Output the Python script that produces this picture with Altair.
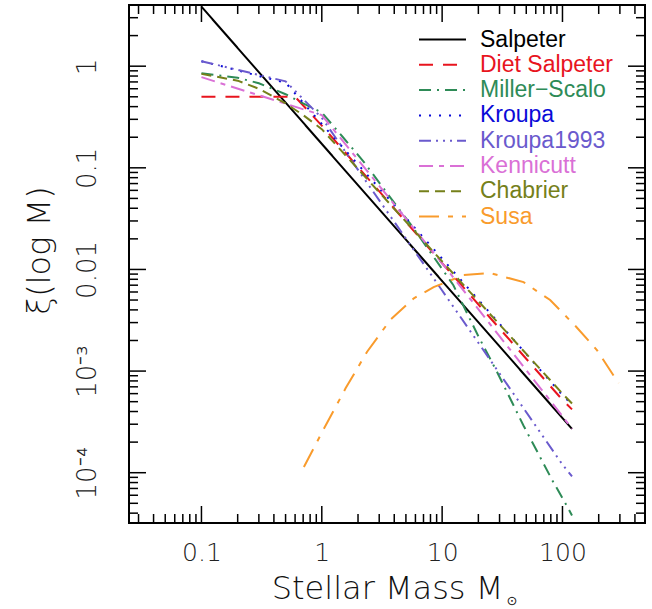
import altair as alt
import pandas as pd

# ---------------- data ----------------
imf_names = ["Salpeter", "Diet Salpeter", "Miller-Scalo", "Kroupa", "Kroupa1993",
             "Kennicutt", "Chabrier", "Susa"]
imf_labels = ["Salpeter", "Diet Salpeter", "Miller\u2212Scalo", "Kroupa", "Kroupa1993",
              "Kennicutt", "Chabrier", "Susa"]
imf_colors = ["#000000", "#e8141e", "#2e8b57", "#0a0ad8", "#6a5acd",
              "#da70d6", "#75801a", "#f99b2c"]
imf_dashes = [[1, 0], [14, 10], [12, 6, 2, 6], [2, 8], [12, 5, 2, 5, 2, 5, 2, 5],
              [14, 6, 5, 6], [10, 6], [20, 9, 5, 9]]

salpeter_m = [0.1, 1, 10, 100, 120]
salpeter_v = [3.85, 0.172, 0.0077, 3.45e-4, 2.7e-4]

diet_m = [0.1, 0.6, 1, 10, 100, 120]
diet_v = [0.5, 0.5, 0.26, 0.0115, 5.2e-4, 4.2e-4]

miller_m = [0.1, 0.2, 0.3, 0.5, 0.7, 1, 1.5, 2.24, 3.07, 4.47, 5.46, 7.5, 10, 12.4,
            20, 28.6, 47.5, 82, 110, 120]
miller_v = [0.85, 0.77, 0.68, 0.53, 0.43, 0.35, 0.2, 0.114, 0.069, 0.038, 0.028, 0.0164,
            0.0101, 0.007, 0.0022, 9.8e-4, 2.9e-4, 8.5e-5, 4.6e-5, 3.8e-5]

kroupa_m = [0.1, 0.2, 0.3, 0.5, 1, 10, 100, 120]
kroupa_v = [1.12, 0.91, 0.8, 0.69, 0.27, 0.0128, 5.8e-4, 4.7e-4]

kroupa93_m = [0.1, 0.5, 1, 10, 20, 100, 120]
kroupa93_v = [1.12, 0.71, 0.31, 0.0062, 1.9e-3, 1.2e-4, 9.2e-5]

kennicutt_m = [0.1, 1, 10, 100, 120]
kennicutt_v = [0.78, 0.33, 0.0115, 3.6e-4, 2.7e-4]

chabrier_m = [0.1, 0.2, 0.3, 0.5, 0.7, 1, 10, 100, 120]
chabrier_v = [0.84, 0.72, 0.6, 0.43, 0.33, 0.24, 0.012, 6.0e-4, 4.8e-4]

susa_m = [0.71, 1.04, 1.58, 2.38, 3.72, 5.82, 8.5, 15.1, 25.2, 47.5, 79, 131, 194, 292]
susa_v = [1.14e-4, 2.7e-4, 6.8e-4, 1.55e-3, 3.2e-3, 5.2e-3, 6.7e-3, 8.8e-3, 9.2e-3,
          7.5e-3, 5.0e-3, 2.7e-3, 1.6e-3, 7.6e-4]

x_tick_values = [0.1, 1, 10, 100]
x_tick_labels = ["0.1", "1", "10", "100"]
y_tick_values = [0.0001, 0.001, 0.01, 0.1, 1]
y_tick_labels = ["10\u207b\u2074", "10\u207b\u00b3", "0.01", "0.1", "1"]
x_minor_ticks = [0.03, 0.04, 0.05, 0.06, 0.07, 0.08, 0.09,
                 0.2, 0.3, 0.4, 0.5, 0.6, 0.7, 0.8, 0.9,
                 2, 3, 4, 5, 6, 7, 8, 9,
                 20, 30, 40, 50, 60, 70, 80, 90,
                 200, 300, 400]
y_minor_ticks = [4e-5, 5e-5, 6e-5, 7e-5, 8e-5, 9e-5,
                 2e-4, 3e-4, 4e-4, 5e-4, 6e-4, 7e-4, 8e-4, 9e-4,
                 0.002, 0.003, 0.004, 0.005, 0.006, 0.007, 0.008, 0.009,
                 0.02, 0.03, 0.04, 0.05, 0.06, 0.07, 0.08, 0.09,
                 0.2, 0.3, 0.4, 0.5, 0.6, 0.7, 0.8, 0.9,
                 2, 3]

x_domain = [0.025, 485]
y_domain = [3.2e-5, 4.0]

# ---------------- build table ----------------
series = [salpeter_m, diet_m, miller_m, kroupa_m, kroupa93_m, kennicutt_m, chabrier_m, susa_m]
values = [salpeter_v, diet_v, miller_v, kroupa_v, kroupa93_v, kennicutt_v, chabrier_v, susa_v]
rows = []
for name, ms, vs in zip(imf_names, series, values):
    for i, (m, v) in enumerate(zip(ms, vs)):
        rows.append({"imf": name, "mass": m, "xi": v, "i": i})
df = pd.DataFrame(rows)

W, H = 516, 518
MAJ, MIN = 17, 9

def label_expr(vals, labs):
    parts = [f"abs(datum.value/{v}-1)<1e-6 ? '{l}'" for v, l in zip(vals, labs)]
    return " : ".join(parts) + " : ''"

legend_label_expr = " : ".join(
    [f"datum.value == '{n}' ? '{l}'" for n, l in zip(imf_names, imf_labels)]) + " : datum.label"

xscale = alt.Scale(type="log", domain=x_domain, nice=False, zero=False)
yscale = alt.Scale(type="log", domain=y_domain, nice=False, zero=False)

axis_font = "DejaVu Sans"

xaxis = alt.Axis(values=x_tick_values, labelExpr=label_expr(x_tick_values, x_tick_labels),
                 title="Stellar Mass M", titleFont=axis_font, titleFontSize=32,
                 titleFontWeight=300, titleColor="#111111",
                 titleX=258, titleY=75, titleAlign="center", titleBaseline="alphabetic",
                 labelFont=axis_font, labelFontSize=25, labelFontWeight=300,
                 labelColor="#222222", labelPadding=17, labelBaseline="top",
                 labelFlush=False, labelOverlap=False, ticks=False, tickSize=0,
                 domain=False, grid=False)
yaxis = alt.Axis(values=y_tick_values, labelExpr=label_expr(y_tick_values, y_tick_labels),
                 title="\u03be(log M)", titleFont=axis_font, titleFontSize=32,
                 titleFontWeight=300, titleColor="#111111",
                 titleAngle=270, titleX=-80, titleY=245, titleAlign="center",
                 titleBaseline="alphabetic",
                 labelFont=axis_font, labelFontSize=26, labelFontWeight=300,
                 labelColor="#222222", labelAngle=270, labelAlign="center",
                 labelBaseline="alphabetic", labelPadding=34,
                 labelFlush=False, labelOverlap=False, ticks=False, tickSize=0,
                 domain=False, grid=False)

legend = alt.Legend(orient="none", legendX=302, legendY=23, title=None,
                    symbolType="M-2.5,0H2.5", symbolSize=353, symbolStrokeWidth=2,
                    labelFont="Liberation Sans", labelFontSize=23, labelOffset=26,
                    rowPadding=1.3, padding=0, labelLimit=400,
                    labelExpr=legend_label_expr,
                    labelColor={"expr": "scale('color', datum.value)"})

lines = alt.Chart(df).mark_line(strokeWidth=2, clip=True).encode(
    x=alt.X("mass:Q", scale=xscale, axis=xaxis),
    y=alt.Y("xi:Q", scale=yscale, axis=yaxis),
    color=alt.Color("imf:N", scale=alt.Scale(domain=imf_names, range=imf_colors),
                    legend=legend),
    strokeDash=alt.StrokeDash("imf:N", scale=alt.Scale(domain=imf_names, range=imf_dashes),
                              legend=legend),
    order=alt.Order("i:Q"),
)

def xticks(vals, length, top):
    base = alt.Chart(pd.DataFrame({"v": vals})).mark_rule(color="black", strokeWidth=1.5)
    if top:
        yy, yy2 = alt.value(0), alt.value(length)
    else:
        yy, yy2 = alt.value(H), alt.value(H - length)
    return base.encode(x=alt.X("v:Q", scale=xscale, axis=xaxis), y=yy, y2=yy2)

def yticks(vals, length, right):
    base = alt.Chart(pd.DataFrame({"v": vals})).mark_rule(color="black", strokeWidth=1.5)
    if right:
        xx, xx2 = alt.value(W), alt.value(W - length)
    else:
        xx, xx2 = alt.value(0), alt.value(length)
    return base.encode(y=alt.Y("v:Q", scale=yscale, axis=yaxis), x=xx, x2=xx2)

tick_layers = [
    xticks(x_tick_values, MAJ, False), xticks(x_minor_ticks, MIN, False),
    xticks(x_tick_values, MAJ, True), xticks(x_minor_ticks, MIN, True),
    yticks(y_tick_values, MAJ, False), yticks(y_minor_ticks, MIN, False),
    yticks(y_tick_values, MAJ, True), yticks(y_minor_ticks, MIN, True),
]

sun = alt.Chart(pd.DataFrame({"s": ["\u2299"]})).mark_text(
    font="DejaVu Sans", fontSize=13, color="#111111", align="center", baseline="middle"
).encode(text="s:N", x=alt.value(383), y=alt.value(596))

chart = alt.layer(lines, *tick_layers, sun).properties(
    width=W, height=H,
    padding={"left": 129, "top": 5, "right": 7, "bottom": 86},
    autosize=alt.AutoSizeParams(type="none"),
    background="white",
).configure_view(stroke="black", strokeWidth=2)

chart.save("out.html", embed_options={"renderer": "svg", "actions": False})
